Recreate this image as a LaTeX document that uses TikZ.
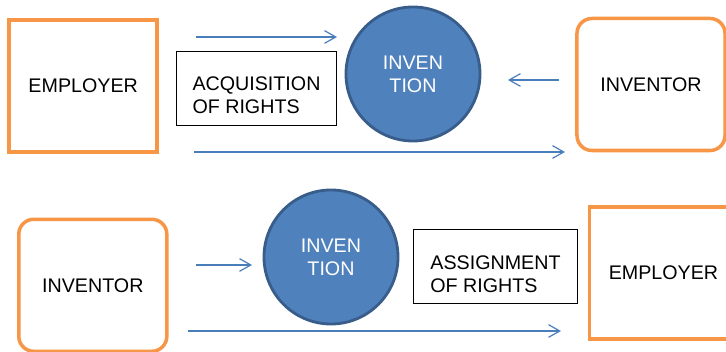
\documentclass[tikz,border=0pt]{standalone}
\usepackage{fontspec}
\setmainfont{Liberation Sans}
\usepackage{tikz}
\usetikzlibrary{arrows.meta,positioning}
\definecolor{partyorange}{HTML}{F79646}
\definecolor{ideablue}{HTML}{4F81BD}
\definecolor{ideaedge}{HTML}{385D8A}
\definecolor{flowblue}{HTML}{4A7EBB}
\newcommand{\diagfont}{\fontsize{14}{16.3}\selectfont}

\begin{document}
\begin{tikzpicture}[x=0.025cm, y=0.025cm,
  party/.style={draw=partyorange, line width=2.5pt, minimum width=3.7cm, minimum height=3.3cm, font=\diagfont},
  person/.style={party, rounded corners=0.375cm},
  idea/.style={circle, fill=ideablue, draw=ideaedge, line width=2pt, minimum size=3.35cm, text=white, align=center, font=\diagfont},
  rights/.style={draw=black, line width=0.9pt, minimum height=1.85cm,
    label={[align=left, font=\diagfont, yshift=-5pt]center:#1}},
  flow/.style={flowblue, line width=0.85pt, -{Straight Barb[length=8pt,width=9pt]}}]
  \useasboundingbox (0,0) rectangle (726,352);
  \clip (0,0) rectangle (726,352);
  % Top row: acquisition
  \node[party] (employerA) at (83.2,266.2) {EMPLOYER};
  \node[rights={ACQUISITION\\OF RIGHTS}, minimum width=4cm] (acquire) at (256.5,263.5) {};
  \node[idea] (inventionA) at (413,278) {INVEN\\TION};
  \node[person] (inventorA) at (651,267.5) {INVENTOR};
  % Top row arrows
  \coordinate (acqIn) at (196,315);
  \coordinate (acqOut) at (337,315);
  \coordinate (makeIn) at (559,272);
  \coordinate (makeOut) at (508,272);
  \coordinate (payIn) at (194,200);
  \coordinate (payOut) at (565,200);
  \draw[flow] (acqIn) -- (acqOut);
  \draw[flow] (makeIn) -- (makeOut);
  \draw[flow] (payIn) -- (payOut);
  % Bottom row: assignment
  \node[person] (inventorB) at (92.8,66.7) {INVENTOR};
  \node[idea] (inventionB) at (331,95) {INVEN\\TION};
  \node[rights={ASSIGNMENT\\OF RIGHTS}, minimum width=4.1cm] (assign) at (495.5,85.2) {};
  \node[party] (employerB) at (663.5,79) {EMPLOYER};
  % Bottom row arrows
  \coordinate (giveIn) at (196,87);
  \coordinate (giveOut) at (252,87);
  \coordinate (passIn) at (188,21);
  \coordinate (passOut) at (561,21);
  \draw[flow] (giveIn) -- (giveOut);
  \draw[flow] (passIn) -- (passOut);
\end{tikzpicture}
\end{document}
